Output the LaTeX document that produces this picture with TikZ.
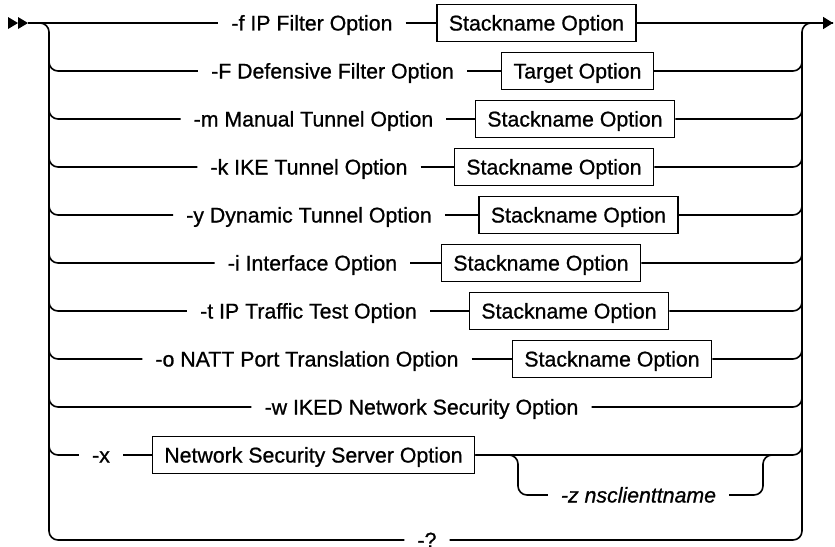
\documentclass[tikz,border=0pt]{standalone}
\usepackage{fontspec}
\setmainfont{Liberation Sans}[BoldFont=Liberation Sans, BoldFeatures={FakeBold=0.8},
  BoldItalicFont=Liberation Sans Italic, BoldItalicFeatures={FakeBold=0.8}]
\usetikzlibrary{arrows.meta,calc}

\tikzset{
  opt/.style={inner xsep=13pt, inner ysep=0pt, text height=15pt, text depth=0pt,
    font=\fontsize{21.3}{25}\selectfont\bfseries},
  optbox/.style={opt, draw, line width=1.5pt, inner xsep=12pt, minimum height=37pt},
  rail/.style={line width=1.6pt, rounded corners=9pt},
}

\begin{document}
\begin{tikzpicture}[x=1pt,y=-1pt]
  \useasboundingbox[fill=white] (0,0) rectangle (835,546);

  % rails and ends
  \coordinate (entry) at (28,23);
  \coordinate (exit)  at (833,23);
  \coordinate (lrail) at (49,23);
  \coordinate (rrail) at (802,23);
  \coordinate (zl)    at (518,455);
  \coordinate (zr)    at (763,455);
  \coordinate (zmerge) at (785,455);

  % options
  \node[opt]    (fopt) at (312,23)    {-f IP Filter Option};
  \node[optbox] (fbox) at (536.5,23)  {Stackname Option};
  \node[opt]    (Fopt) at (332.5,71)  {-F Defensive Filter Option};
  \node[optbox] (Fbox) at (577.5,71)  {Target Option};
  \node[opt]    (mopt) at (313.5,119) {-m Manual Tunnel Option};
  \node[optbox] (mbox) at (575,119)   {Stackname Option};
  \node[opt]    (kopt) at (309,167)   {-k IKE Tunnel Option};
  \node[optbox] (kbox) at (554,167)   {Stackname Option};
  \node[opt]    (yopt) at (309,215)   {-y Dynamic Tunnel Option};
  \node[optbox] (ybox) at (578.5,215) {Stackname Option};
  \node[opt]    (iopt) at (312.5,263) {-i Interface Option};
  \node[optbox] (ibox) at (541,263)   {Stackname Option};
  \node[opt]    (topt) at (308.5,311) {-t IP Traffic Test Option};
  \node[optbox] (tbox) at (569,311)   {Stackname Option};
  \node[opt]    (oopt) at (307,359)   {-o NATT Port Translation Option};
  \node[optbox] (obox) at (612,359)   {Stackname Option};
  \node[opt]    (wopt) at (421.5,407) {-w IKED Network Security Option};
  \node[opt]    (xopt) at (101,455)   {-x};
  \node[optbox] (xbox) at (313.5,455) {Network Security Server Option};
  \node[opt,font=\fontsize{21.3}{25}\selectfont\bfseries\itshape] (zopt) at (638.5,495) {-z nsclienttname};
  \node[opt]    (qopt) at (427,540)   {-?};

  % start marker
  \fill (8,17) -- (18,23) -- (8,29) -- cycle;
  \fill (18,17) -- (28,23) -- (18,29) -- cycle;

  % main line
  \draw[rail] (entry) -- (fopt);
  \draw[rail] (fopt) -- (fbox);
  \draw[rail,-{Triangle[length=10pt,width=12pt]}] (fbox) -- (exit);

  % left and right rails
  \draw[rail] (entry) -| (lrail |- qopt) -- (qopt.west);
  \draw[rail] (qopt.east) -| (rrail) -- (exit);

  % branches
  \foreach \n/\b in {Fopt/Fbox,mopt/mbox,kopt/kbox,yopt/ybox,iopt/ibox,topt/tbox,oopt/obox,xopt/xbox}{
    \draw[rail] ($(lrail |- \n)+(0,-14)$) |- (\n.west);
    \draw[rail] (\n) -- (\b);
    \draw[rail] (\b.east) -| ($(rrail |- \n)+(0,-14)$);
  }
  \draw[rail] ($(lrail |- wopt)+(0,-14)$) |- (wopt.west);
  \draw[rail] (wopt.east) -| ($(rrail |- wopt)+(0,-14)$);

  % optional -z
  \draw[rail] (xbox.east) -| (zl |- zopt) -- (zopt.west);
  \draw[rail] (zopt.east) -| (zr) -- (zmerge);
\end{tikzpicture}
\end{document}
